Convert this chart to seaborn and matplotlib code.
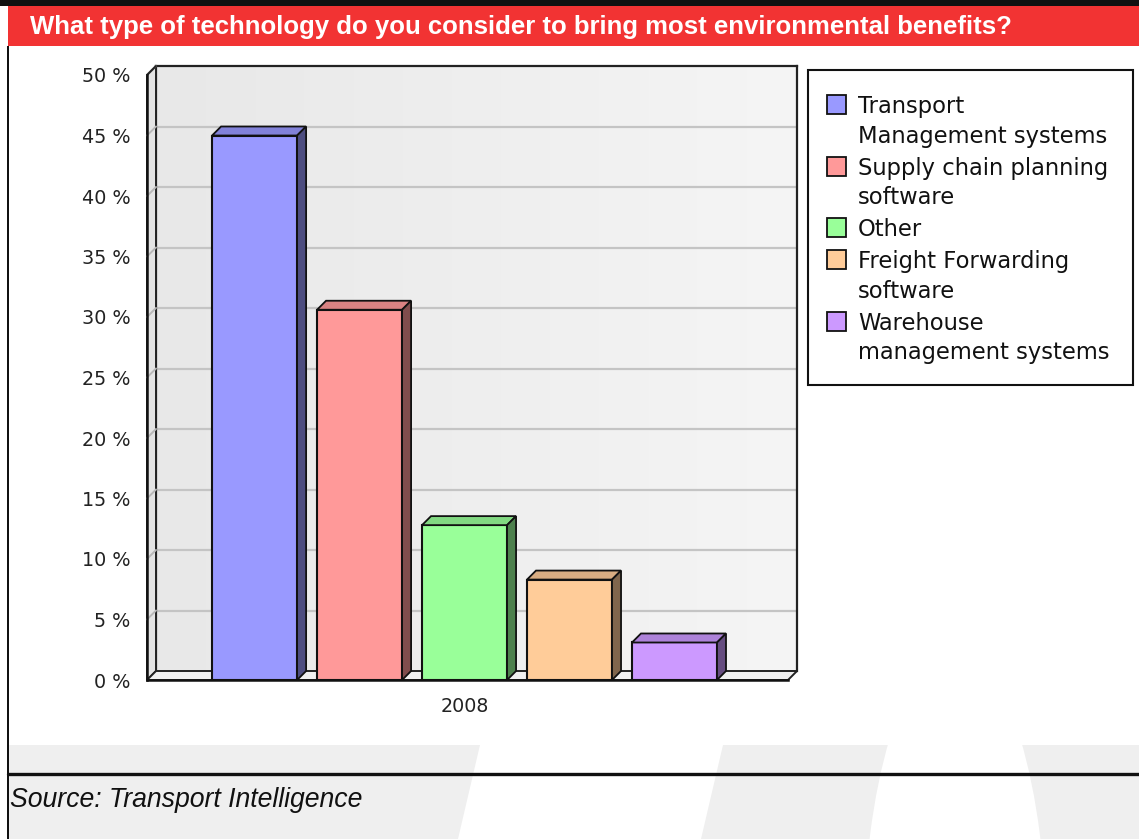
import numpy as np
import pandas as pd
import matplotlib
matplotlib.use("Agg")
import matplotlib.pyplot as plt
import seaborn as sns
from matplotlib.patches import Polygon, Rectangle, Ellipse
from matplotlib.lines import Line2D
from matplotlib.colors import to_rgb, LinearSegmentedColormap
from matplotlib import font_manager as fm

# ---- data -------------------------------------------------------------
technologies = [
    "Transport\nManagement systems",
    "Supply chain planning\nsoftware",
    "Other",
    "Freight Forwarding\nsoftware",
    "Warehouse\nmanagement systems",
]
shares = [45.0, 30.6, 12.8, 8.3, 3.1]
year = ["2008"] * len(technologies)
bar_colors = ["#9999FF", "#FF9999", "#99FF99", "#FFCC99", "#CC99FF"]
y_ticks = [0, 5, 10, 15, 20, 25, 30, 35, 40, 45, 50]
y_tick_labels = [f"{v} %" for v in y_ticks]
title_text = "What type of technology do you consider to bring most environmental benefits?"
source_text = "Source: Transport Intelligence"

# ---- canvas helpers ----------------------------------------------------
W, H = 1139, 839
DEPTH = 9          # pixel depth of the pseudo-3D walls and bars


def fx(x):
    return x / W


def fy(y):
    return 1 - y / H


sns.set_theme(style="white")
plt.rcParams["font.family"] = ["DejaVu Sans"]

installed = {f.name for f in fm.fontManager.ttflist}
title_family = "Liberation Sans Narrow" if "Liberation Sans Narrow" in installed else "Liberation Sans"

fig = plt.figure(figsize=(W / 100, H / 100), dpi=100)
fig.patch.set_facecolor("white")

# plot box (front plane) in pixel terms
L, R, B, T = 147, 788, 680, 75

# ---- back wall with soft gradient -------------------------------------
wall = fig.add_axes([fx(L + DEPTH), fy(B - DEPTH), (R - L) / W, (B - T) / H], zorder=1)
wall_cmap = LinearSegmentedColormap.from_list("wall", ["#E8E8E8", "#F5F5F5"])
wall.imshow(np.linspace(0, 1, 256)[None, :], cmap=wall_cmap, aspect="auto",
            extent=[0, 1, 0, 50], origin="lower")
wall.set_xlim(0, 1)
wall.set_ylim(0, 50)
for v in y_ticks[1:-1]:
    wall.axhline(v, color="#C4C4C4", lw=1.6)
wall.set_xticks([])
wall.set_yticks([])
for side in ["top", "left", "right"]:
    wall.spines[side].set_color("#222222")
    wall.spines[side].set_linewidth(1.6)
wall.spines["bottom"].set_visible(False)

# left side wall
fig.patches.append(Polygon(
    [(fx(L), fy(B)), (fx(L), fy(T)), (fx(L + DEPTH), fy(T - DEPTH)), (fx(L + DEPTH), fy(B - DEPTH))],
    closed=True, facecolor="#E4E4E4", edgecolor="#222222", lw=1.4,
    transform=fig.transFigure, zorder=1.5))
# floor
fig.patches.append(Polygon(
    [(fx(L), fy(B)), (fx(R), fy(B)), (fx(R + DEPTH), fy(B - DEPTH)), (fx(L + DEPTH), fy(B - DEPTH))],
    closed=True, facecolor="#F0F0F0", edgecolor="#222222", lw=1.4,
    transform=fig.transFigure, zorder=1.5))

# ---- front axes with the bars ------------------------------------------
ax = fig.add_axes([fx(L), fy(B), (R - L) / W, (B - T) / H], zorder=2)
ax.patch.set_visible(False)

df = pd.DataFrame({"year": year, "technology": technologies, "share": shares})
sns.barplot(data=df, x="year", y="share", hue="technology", hue_order=technologies,
            palette=bar_colors, saturation=1, width=0.8, gap=0.19,
            edgecolor="#111111", linewidth=1.5, legend=False, ax=ax)

ax.set_xlim(-0.484, 0.493)
ax.set_ylim(0, 50)
ax.set_yticks(y_ticks)
ax.set_yticklabels(y_tick_labels)
ax.set_xlabel("")
ax.set_ylabel("")
for side in ["top", "right"]:
    ax.spines[side].set_visible(False)
for side in ["left", "bottom"]:
    ax.spines[side].set_visible(True)
    ax.spines[side].set_color("#111111")
    ax.spines[side].set_linewidth(1.8)
ax.tick_params(axis="both", which="major", direction="out", length=7, width=1.6,
               color="#111111", labelsize=13.8, labelcolor="#222222")
ax.tick_params(axis="y", pad=5)
ax.tick_params(axis="x", pad=5)
ax.grid(False)

# diagonal grid stubs on the side wall
for v in y_ticks[1:]:
    _, py = ax.transData.transform((0, v))
    fig.add_artist(Line2D([fx(L), fx(L + DEPTH)], [py / H, (py + DEPTH) / H],
                          transform=fig.transFigure, color="#B8B8B8", lw=1.4, zorder=1.6))
fig.add_artist(Line2D([fx(L), fx(L + DEPTH)], [fy(T), fy(T - DEPTH)],
                      transform=fig.transFigure, color="#222222", lw=1.4, zorder=1.7))

# pseudo-3D top and side faces of each bar
for patch, col in zip(ax.patches, bar_colors):
    x0, w, h = patch.get_x(), patch.get_width(), patch.get_height()
    (tlx, tly), (trx, try_), (brx, bry) = ax.transData.transform([(x0, h), (x0 + w, h), (x0 + w, 0)])
    rgb = np.array(to_rgb(col))
    top = [(tlx, tly), (trx, try_), (trx + DEPTH, try_ + DEPTH), (tlx + DEPTH, tly + DEPTH)]
    side = [(trx, try_), (brx, bry), (brx + DEPTH, bry + DEPTH), (trx + DEPTH, try_ + DEPTH)]
    for pts, shade in [(top, 0.85), (side, 0.5)]:
        fig.patches.append(Polygon([(px / W, py / H) for px, py in pts], closed=True,
                                   facecolor=rgb * shade, edgecolor="#111111", lw=1.3,
                                   transform=fig.transFigure, zorder=2.5))

# ---- legend box ----------------------------------------------------------
fig.patches.append(Rectangle((fx(808), fy(385)), (1133 - 808) / W, (385 - 70) / H,
                             facecolor="white", edgecolor="#111111", lw=1.5,
                             transform=fig.transFigure, zorder=3))
baseline = 113
line_step = 29.5
for label, col in zip(technologies, bar_colors):
    lines = label.split("\n")
    fig.patches.append(Rectangle((fx(827), fy(baseline + 1)), 19 / W, 19 / H,
                                 facecolor=col, edgecolor="#111111", lw=1.3,
                                 transform=fig.transFigure, zorder=3.2))
    for i, line in enumerate(lines):
        fig.text(fx(858), fy(baseline + i * line_step), line, fontsize=16.3,
                 color="#111111", va="baseline", ha="left", zorder=3.3)
    baseline += len(lines) * line_step + 2.5

# ---- header bar ------------------------------------------------------------
fig.patches.append(Rectangle((0, fy(6)), 1, 6 / H, facecolor="#111111",
                             edgecolor="none", transform=fig.transFigure, zorder=0.5))
fig.patches.append(Rectangle((fx(8), fy(46)), (W - 8) / W, 40 / H, facecolor="#F23333",
                             edgecolor="none", transform=fig.transFigure, zorder=0.5))
fig.patches.append(Rectangle((fx(7), 0), 2 / W, fy(46), facecolor="#111111",
                             edgecolor="none", transform=fig.transFigure, zorder=0.6))
title = fig.text(fx(30), fy(27), title_text, color="white", fontweight="bold",
                 family=title_family, fontsize=16, va="center", ha="left", zorder=4)
fig.canvas.draw()
tw = title.get_window_extent().width
title.set_fontsize(16 * 978 / tw)

# ---- footer band with faint watermark ---------------------------------------
band = Rectangle((fx(9), 0), (W - 9) / W, fy(745), facecolor="#EFEFEF",
                 edgecolor="none", transform=fig.transFigure, zorder=0.3)
fig.patches.append(band)
stripe = Polygon([(fx(480), fy(745)), (fx(723), fy(745)), (fx(701), fy(839)), (fx(458), fy(839))],
                 closed=True, facecolor="white", edgecolor="none",
                 transform=fig.transFigure, zorder=0.35)
stripe.set_clip_path(band)
fig.patches.append(stripe)
ring = Ellipse((fx(955), fy(950)), 184 / W, 600 / H, facecolor="white", edgecolor="none",
               transform=fig.transFigure, zorder=0.35)
ring.set_clip_path(band)
fig.patches.append(ring)
fig.add_artist(Line2D([fx(8), 1], [fy(774), fy(774)], transform=fig.transFigure,
                      color="#111111", lw=2.4, zorder=0.6))
fig.text(fx(10), fy(800), source_text, family="Liberation Sans", style="italic",
         fontsize=19.2, color="#111111", va="center", ha="left", zorder=4)

fig.savefig("out.png", dpi=100, facecolor="white")
